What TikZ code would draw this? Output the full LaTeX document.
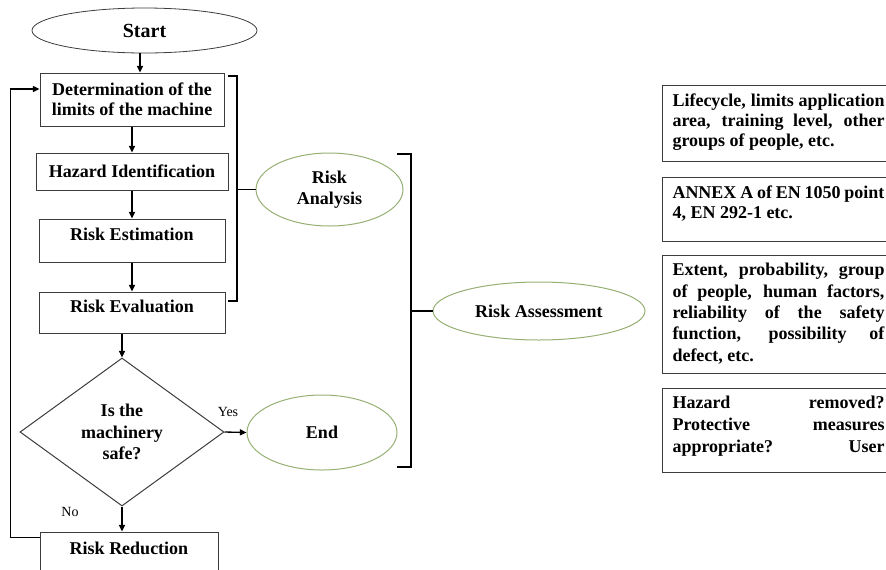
\documentclass[tikz,border=0pt]{standalone}
\usepackage{fontspec}
\setmainfont{Liberation Serif}
\usetikzlibrary{shapes.geometric,arrows.meta,calc}
\definecolor{ellgreen}{RGB}{150,175,115}
\definecolor{boxgray}{RGB}{60,60,60}
\newcommand\jl[1]{\makebox[159pt][s]{#1}}
\begin{document}
\begin{tikzpicture}[x=0.75pt,y=-0.75pt,
  flow/.style={draw=boxgray, line width=0.75pt, rectangle, inner sep=0pt, align=center,
    font=\fontsize{13.5}{15}\selectfont\bfseries},
  raised/.style={text height=9pt, text depth=9pt},
  greenell/.style={ellipse, draw=ellgreen, line width=0.75pt, inner sep=0pt, align=center,
    font=\fontsize{13.5}{15.5}\selectfont\bfseries},
  rbox/.style={draw=boxgray, line width=0.75pt, anchor=north west, inner xsep=7.5pt, inner ysep=6pt,
    font=\fontsize{13.5}{15}\selectfont\bfseries},
  arr/.style={-{Triangle[length=5pt,width=4.5pt]}, line width=1pt, black},
  brk/.style={line width=1.4pt, black},
  lbl/.style={inner sep=0pt, font=\fontsize{10.5}{12}\selectfont}
]
\useasboundingbox (0,0) rectangle (886,569);
\clip (0,0) rectangle (886,569);

% flow chart
\node[ellipse, draw=boxgray, line width=0.6pt, minimum width=168.75pt, minimum height=33.75pt,
  inner sep=0pt, font=\fontsize{15}{18}\selectfont\bfseries] (start) at (144.5,30.5) {Start};
\node[flow, minimum width=138pt, minimum height=39.75pt] (b1) at (132,99.5) {Determination of the\\limits of the machine};
\node[flow, minimum width=144pt, minimum height=27.75pt] (b2) at (132,171.5) {Hazard Identification};
\node[flow, raised, minimum width=139.5pt, minimum height=32.25pt] (b3) at (132,240.5) {Risk Estimation};
\node[flow, raised, minimum width=139.5pt, minimum height=30.75pt] (b4) at (132,312.5) {Risk Evaluation};
\node[diamond, draw=boxgray, line width=0.75pt, aspect=1.38, minimum width=153pt, minimum height=111pt,
  inner sep=0pt, align=center, font=\fontsize{13.5}{16}\selectfont\bfseries] (dec) at (122,432) {Is the\\machinery\\safe?};
\node[flow, raised, minimum width=133.5pt, minimum height=33pt] (rr) at (129,554) {Risk Reduction};

\node[greenell, minimum width=110.25pt, minimum height=54.75pt] (ra) at (329.5,189.5) {Risk\\Analysis};
\node[greenell, minimum width=159pt, minimum height=43.5pt] (rass) at (539,311) {Risk Assessment};
\node[greenell, minimum width=112.5pt, minimum height=56.25pt] (end) at (322,432.5) {End};

\node[lbl] (yes) at (228,412) {Yes};
\node[lbl] (no) at (70,512) {No};

% arrows
\draw[arr] ($(start.south)+(-4.5,0)$) -- ($(b1.north)+(8,0)$);
\draw[arr] (b1) -- (b2);
\draw[arr] (b2) -- (b3);
\draw[arr] (b3) -- (b4);
\draw[arr] (b4.south -| dec.north) -- (dec.north);
\draw[arr] (dec.south) -- (dec.south |- rr.north);
\draw[arr] (dec.east) -- (end.west);
\draw[arr] ($(rr.north west)+(0,6)$) -- ++(-29,0) |- ($(b1.west)+(0,-10.5)$);

% brackets
\coordinate (k1a) at (228,76);
\coordinate (k1b) at (237,76);
\coordinate (k1c) at (237,301);
\coordinate (k1d) at (228,301);
\coordinate (k1m) at (237,189.5);
\draw[brk] (k1a) -- (k1b) -- (k1c) -- (k1d);
\draw[brk] (k1m) -- (ra.west);
\coordinate (k2a) at (397,154);
\coordinate (k2b) at (411,154);
\coordinate (k2c) at (411,467);
\coordinate (k2d) at (397,467);
\coordinate (k2m) at (411,311);
\draw[brk] (k2a) -- (k2b) -- (k2c) -- (k2d);
\draw[brk] (k2m) -- (rass.west);

% right-hand boxes
\node[rbox] (ta) at (662,85) {\parbox[t][45.25pt][t]{159pt}{%
  \jl{Lifecycle, limits application}\\
  \jl{area, training level, other}\\
  groups of people, etc.}};
\node[rbox] (tb) at (662,177) {\parbox[t][36pt][t]{159pt}{%
  \jl{ANNEX A of EN 1050 point}\\
  4, EN 292-1 etc.}};
\node[rbox] (tc) at (662,255) {\parbox[t][76.5pt][t]{159pt}{\fontsize{13.5}{16}\selectfont
  \jl{Extent, probability, group}\\
  \jl{of people, human factors,}\\
  \jl{reliability of the safety}\\
  \jl{function, possibility of}\\
  defect, etc.}};
\node[rbox] (td) at (662,388) {\parbox[t][51pt][t]{159pt}{\fontsize{13.5}{16.5}\selectfont
  \jl{Hazard removed?}\\
  \jl{Protective measures}\\
  \jl{appropriate? User}}};
\end{tikzpicture}
\end{document}
